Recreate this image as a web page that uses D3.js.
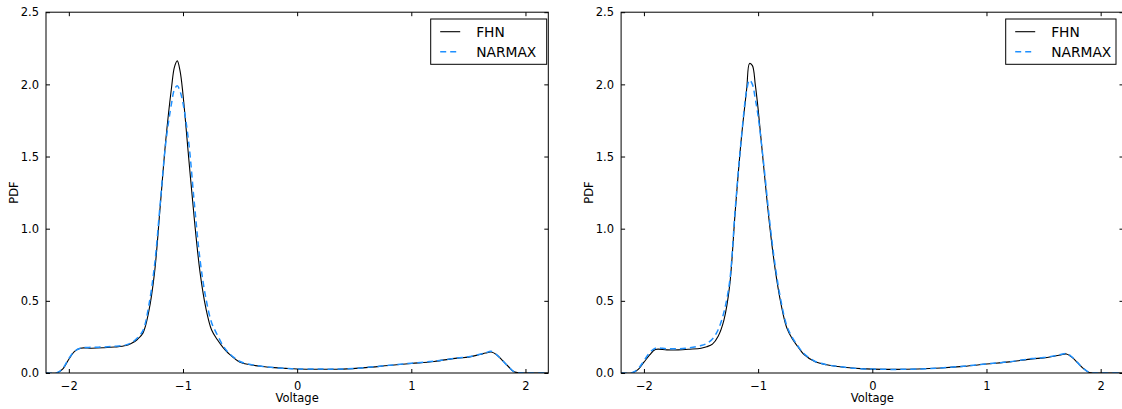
<!DOCTYPE html>
<html>
<head>
<meta charset="utf-8">
<script src="https://cdn.jsdelivr.net/npm/d3@7"></script>
<style>
  html, body { margin: 0; padding: 0; background: #fff; }
  svg { display: block; font-family: "DejaVu Sans", sans-serif; }
</style>
</head>
<body>
<svg id="chart" width="1122" height="409"></svg>
<script>
// Voltage grid shared by both density estimates
const voltage = [-2.2, -2.1, -2.05, -2.0, -1.95, -1.9, -1.8, -1.7, -1.6, -1.5, -1.45, -1.4, -1.35, -1.3,
  -1.25, -1.2, -1.15, -1.1, -1.075, -1.05, -1.025, -1.0, -0.95, -0.9, -0.85, -0.8, -0.75, -0.7, -0.65,
  -0.6, -0.5, -0.4, -0.3, -0.2, -0.1, 0, 0.2, 0.4, 0.6, 0.8, 1.0, 1.2, 1.4, 1.5, 1.6, 1.65, 1.7, 1.75,
  1.8, 1.85, 1.9, 1.95, 2.0, 2.2];

// First run
const fhnA = [0, 0.002, 0.03, 0.095, 0.15, 0.172, 0.172, 0.175, 0.18, 0.19, 0.206, 0.232, 0.278, 0.425,
  0.69, 1.15, 1.62, 1.98, 2.12, 2.163, 2.09, 1.93, 1.49, 1.06, 0.694, 0.451, 0.3, 0.232, 0.178,
  0.135, 0.075, 0.056, 0.045, 0.037, 0.032, 0.028, 0.026, 0.027, 0.037, 0.052, 0.066, 0.08, 0.103, 0.11,
  0.128, 0.138, 0.145, 0.125, 0.085, 0.045, 0.008, 0, 0, 0];
const narmaxA = [0, 0.003, 0.035, 0.1, 0.15, 0.172, 0.178, 0.18, 0.185, 0.195, 0.21, 0.242, 0.295, 0.465,
  0.74, 1.17, 1.6, 1.87, 1.965, 1.99, 1.95, 1.87, 1.6, 1.17, 0.78, 0.52, 0.35, 0.265, 0.19,
  0.14, 0.08, 0.058, 0.045, 0.037, 0.032, 0.028, 0.027, 0.028, 0.038, 0.053, 0.068, 0.082, 0.104, 0.112,
  0.13, 0.14, 0.15, 0.125, 0.085, 0.045, 0.008, 0.001, 0, 0];

// Second run
const fhnB = [0, 0.002, 0.025, 0.075, 0.125, 0.163, 0.16, 0.16, 0.165, 0.172, 0.182, 0.2, 0.255, 0.365,
  0.6, 1.125, 1.6, 1.97, 2.145, 2.13, 2.0, 1.83, 1.42, 1.03, 0.715, 0.48, 0.315, 0.235, 0.18,
  0.13, 0.078, 0.057, 0.045, 0.036, 0.03, 0.027, 0.025, 0.028, 0.035, 0.046, 0.062, 0.077, 0.098, 0.105,
  0.118, 0.125, 0.132, 0.108, 0.07, 0.03, 0.004, 0, 0, 0];
const narmaxB = [0, 0.003, 0.03, 0.085, 0.14, 0.172, 0.168, 0.168, 0.175, 0.19, 0.205, 0.235, 0.3, 0.42,
  0.63, 1.14, 1.6, 1.96, 2.03, 2.0, 1.9, 1.78, 1.44, 1.06, 0.74, 0.5, 0.33, 0.245, 0.185,
  0.135, 0.08, 0.058, 0.045, 0.036, 0.03, 0.027, 0.025, 0.028, 0.035, 0.047, 0.063, 0.078, 0.1, 0.107,
  0.12, 0.128, 0.135, 0.11, 0.07, 0.03, 0.004, 0, 0, 0];

const seriesNames = ["FHN", "NARMAX"];
const xTicks = [-2, -1, 0, 1, 2];
const xTickLabels = ["\u22122", "\u22121", "0", "1", "2"];
const yTicks = [0, 0.5, 1.0, 1.5, 2.0, 2.5];
const yTickLabels = ["0.0", "0.5", "1.0", "1.5", "2.0", "2.5"];
const xDomain = [-2.2, 2.2];
const yDomain = [0, 2.5];

const svg = d3.select("#chart");

const panels = [
  { left: 46, right: 548.3, fhn: fhnA, narmax: narmaxA, legend: { x: 430.7, w: 116 } },
  { left: 621.1, right: 1123.5, fhn: fhnB, narmax: narmaxB, legend: { x: 1005.7, w: 110.3 } }
];
const plotTop = 12.2, plotBottom = 373;

panels.forEach((p, i) => {
  const x = d3.scaleLinear().domain(xDomain).range([p.left, p.right]);
  const y = d3.scaleLinear().domain(yDomain).range([plotBottom, plotTop]);
  const g = svg.append("g");

  const clipId = "clip" + i;
  svg.append("clipPath").attr("id", clipId)
    .append("rect").attr("x", p.left).attr("y", plotTop)
    .attr("width", p.right - p.left).attr("height", plotBottom - plotTop);

  const line = d3.line()
    .x((d, k) => x(voltage[k]))
    .y(d => y(Math.max(0, d)))
    .curve(d3.curveCatmullRom.alpha(0.5));

  const plot = g.append("g").attr("clip-path", `url(#${clipId})`);
  plot.append("path").datum(p.fhn)
    .attr("d", line).attr("fill", "none")
    .attr("stroke", "#000").attr("stroke-width", 1.1);
  plot.append("path").datum(p.narmax)
    .attr("d", line).attr("fill", "none")
    .attr("stroke", "#1e90ff").attr("stroke-width", 1.5)
    .attr("stroke-dasharray", "6,4");

  // Axes: ticks point inward on all four sides
  const fmtX = d => xTickLabels[xTicks.indexOf(d)];
  const fmtY = d => yTickLabels[yTicks.indexOf(d)];

  const axB = g.append("g").attr("transform", `translate(0,${plotBottom})`)
    .call(d3.axisBottom(x).tickValues(xTicks).tickFormat(fmtX).tickSizeInner(-4).tickSizeOuter(0).tickPadding(9));
  const axT = g.append("g").attr("transform", `translate(0,${plotTop})`)
    .call(d3.axisTop(x).tickValues(xTicks).tickFormat("").tickSizeInner(-4).tickSizeOuter(0));
  const axL = g.append("g").attr("transform", `translate(${p.left},0)`)
    .call(d3.axisLeft(y).tickValues(yTicks).tickFormat(fmtY).tickSizeInner(-4).tickSizeOuter(0).tickPadding(7));
  const axR = g.append("g").attr("transform", `translate(${p.right},0)`)
    .call(d3.axisRight(y).tickValues(yTicks).tickFormat("").tickSizeInner(-4).tickSizeOuter(0));

  [axB, axT, axL, axR].forEach(a => {
    a.select(".domain").remove();
    a.selectAll("line").attr("stroke", "#000").attr("stroke-width", 1);
    a.selectAll("text").attr("fill", "#000").style("font-size", "11.5px")
      .style("font-family", "'DejaVu Sans', sans-serif");
  });

  // Frame
  g.append("rect").attr("x", p.left).attr("y", plotTop)
    .attr("width", p.right - p.left).attr("height", plotBottom - plotTop)
    .attr("fill", "none").attr("stroke", "#000").attr("stroke-width", 1);

  // Axis titles
  g.append("text").attr("x", x(0)).attr("y", 402)
    .attr("text-anchor", "middle").style("font-size", "11.5px").text("Voltage");
  g.append("text")
    .attr("transform", `translate(${p.left - 28},${(plotTop + plotBottom) / 2}) rotate(-90)`)
    .attr("text-anchor", "middle").style("font-size", "11.5px").text("PDF");

  // Legend
  const lg = g.append("g");
  lg.append("rect").attr("x", p.legend.x).attr("y", 19)
    .attr("width", p.legend.w).attr("height", 45.3)
    .attr("fill", "#fff").attr("stroke", "#000").attr("stroke-width", 1);
  const rows = [
    { name: seriesNames[0], stroke: "#000", dash: null, w: 1.1 },
    { name: seriesNames[1], stroke: "#1e90ff", dash: "6,4", w: 1.5 }
  ];
  rows.forEach((r, k) => {
    const cy = 31.7 + k * 20;
    const lx = p.legend.x + 9.5;
    lg.append("line").attr("x1", lx).attr("x2", lx + 20).attr("y1", cy).attr("y2", cy)
      .attr("stroke", r.stroke).attr("stroke-width", r.w)
      .attr("stroke-dasharray", r.dash);
    lg.append("text").attr("x", lx + 36).attr("y", cy).attr("dy", "0.36em")
      .style("font-size", "13.8px").text(r.name);
  });
});
</script>
</body>
</html>
